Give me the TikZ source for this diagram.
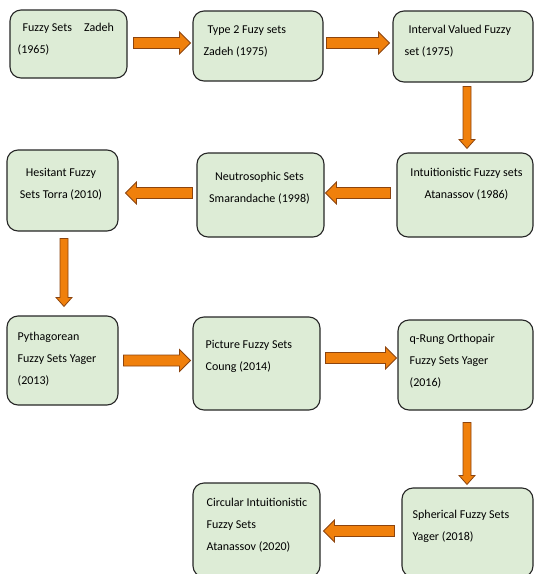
\documentclass[tikz,border=0pt]{standalone}
\usepackage{fontspec}
\setmainfont{Carlito}
\usetikzlibrary{calc}

\definecolor{boxgreen}{RGB}{221,236,214}
\definecolor{arrorange}{RGB}{240,128,12}
\definecolor{arredge}{RGB}{140,68,14}

\begin{document}
\begin{tikzpicture}[x=1pt, y=-1pt,
    box/.style 2 args={draw=black!85, line width=1.1pt, fill=boxgreen,
        rounded corners=11pt, minimum width=#1pt, minimum height=#2pt},
    txt/.style={inner sep=0pt, font=\fontsize{12}{22}\selectfont,
        execute at begin node={\rule{0pt}{9pt}}},
    % fat arrows, left/right and down
    harrow/.style={draw=arredge, fill=arrorange, line width=0.8pt,
        to path={let \p1=(\tikztostart), \p2=(\tikztotarget),
            \n1={\x2-ifthenelse(\x2>\x1,11,-11)} in
            (\x1,\y1-5.5pt) -- (\n1,\y1-5.5pt) -- (\n1,\y1-11pt) -- (\x2,\y1)
            -- (\n1,\y1+11pt) -- (\n1,\y1+5.5pt) -- (\x1,\y1+5.5pt) -- cycle}},
    varrow/.style={draw=arredge, fill=arrorange, line width=0.8pt,
        to path={let \p1=(\tikztostart), \p2=(\tikztotarget),
            \n2={\y2-ifthenelse(\y2>\y1,9,-9)} in
            (\x1-4pt,\y1) -- (\x1-4pt,\n2) -- (\x1-8pt,\n2) -- (\x1,\y2)
            -- (\x1+8pt,\n2) -- (\x1+4pt,\n2) -- (\x1+4pt,\y1) -- cycle}}]

    \useasboundingbox (0,0) rectangle (534,574);
    \clip (0,0) rectangle (534,574);

    % boxes
    \node[box={117}{68}] (fs) at (68.5,44) {};
    \node[box={130}{70}] (tfs) at (258,46) {};
    \node[box={140}{71}] (ivfs) at (463,46.5) {};
    \node[box={136}{84}] (ifs) at (465,195) {};
    \node[box={127}{84}] (ns) at (260.5,195) {};
    \node[box={111}{81}] (hfs) at (62.5,190.5) {};
    \node[box={111}{89}] (pfs) at (62.5,360.5) {};
    \node[box={127}{93}] (pic) at (256.5,363.5) {};
    \node[box={135}{90}] (qrofs) at (465.5,365) {};
    \node[box={131}{89}] (sfs) at (467.5,532.5) {};
    \node[box={127}{94}] (cifs) at (256.5,530) {};

    % texts
    \node[txt, anchor=north west, align=left] (fs-t) at ([shift={(8pt,-14pt)}]fs.north west)
        {\hspace*{5pt}Fuzzy Sets\hspace{12pt}Zadeh\\(1965)};
    \node[txt, anchor=north west, align=left] (tfs-t) at ([shift={(11pt,-15pt)}]tfs.north west)
        {\hspace*{4pt}Type 2 Fuzy sets\\Zadeh (1975)};
    \node[txt, anchor=north west, align=left] (ivfs-t) at ([shift={(12pt,-15pt)}]ivfs.north west)
        {\hspace*{4pt}Interval Valued Fuzzy\\set (1975)};
    \node[txt, anchor=north, align=center] (ifs-t) at ([shift={(1.5pt,-16pt)}]ifs.north)
        {Intuitionistic Fuzzy sets\\Atanassov (1986)};
    \node[txt, anchor=north, align=center] (ns-t) at ([shift={(-1pt,-20pt)}]ns.north)
        {Neutrosophic Sets\\Smarandache (1998)};
    \node[txt, anchor=north, align=center] (hfs-t) at ([shift={(-1.5pt,-19pt)}]hfs.north)
        {Hesitant Fuzzy\\Sets Torra (2010)};
    \node[txt, anchor=north west, align=left] (pfs-t) at ([shift={(11pt,-17pt)}]pfs.north west)
        {Pythagorean\\Fuzzy Sets Yager\\(2013)};
    \node[txt, anchor=north west, align=left] (pic-t) at ([shift={(13pt,-24pt)}]pic.north west)
        {Picture Fuzzy Sets\\Coung (2014)};
    \node[txt, anchor=north west, align=left] (qrofs-t) at ([shift={(12pt,-15pt)}]qrofs.north west)
        {q-Rung Orthopair\\Fuzzy Sets Yager\\(2016)};
    \node[txt, anchor=north west, align=left] (sfs-t) at ([shift={(11pt,-23pt)}]sfs.north west)
        {Spherical Fuzzy Sets\\Yager (2018)};
    \node[txt, anchor=north west, align=left] (cifs-t) at ([shift={(14pt,-16pt)}]cifs.north west)
        {Circular Intuitionistic\\Fuzzy Sets\\Atanassov (2020)};

    % arrows
    \draw[harrow] ($(fs.east)+(6,-1)$) to ($(tfs.west)+(-2,0)$);
    \draw[harrow] ($(tfs.east)+(3,-3)$) to ($(ivfs.west)+(-3,0)$);
    \draw[varrow] ($(ivfs.south)+(4,4)$) to ($(ifs.north)+(0,-4)$);
    \draw[harrow] ($(ifs.west)+(-6,-2)$) to ($(ns.east)+(1,0)$);
    \draw[harrow] ($(ns.west)+(-4,-2)$) to ($(hfs.east)+(7,0)$);
    \draw[varrow] ($(hfs.south)+(1.5,7)$) to ($(pfs.north)+(0,-9)$);
    \draw[harrow] ($(pfs.east)+(5,0)$) to ($(pic.west)+(-2,0)$);
    \draw[harrow] ($(pic.east)+(5,-5.5)$) to ($(qrofs.west)+(-1,0)$);
    \draw[varrow] ($(qrofs.south)+(1.5,12)$) to ($(sfs.north)+(0,-3)$);
    \draw[harrow] ($(sfs.west)+(-7,-1.5)$) to ($(cifs.east)+(3,0)$);
\end{tikzpicture}
\end{document}
